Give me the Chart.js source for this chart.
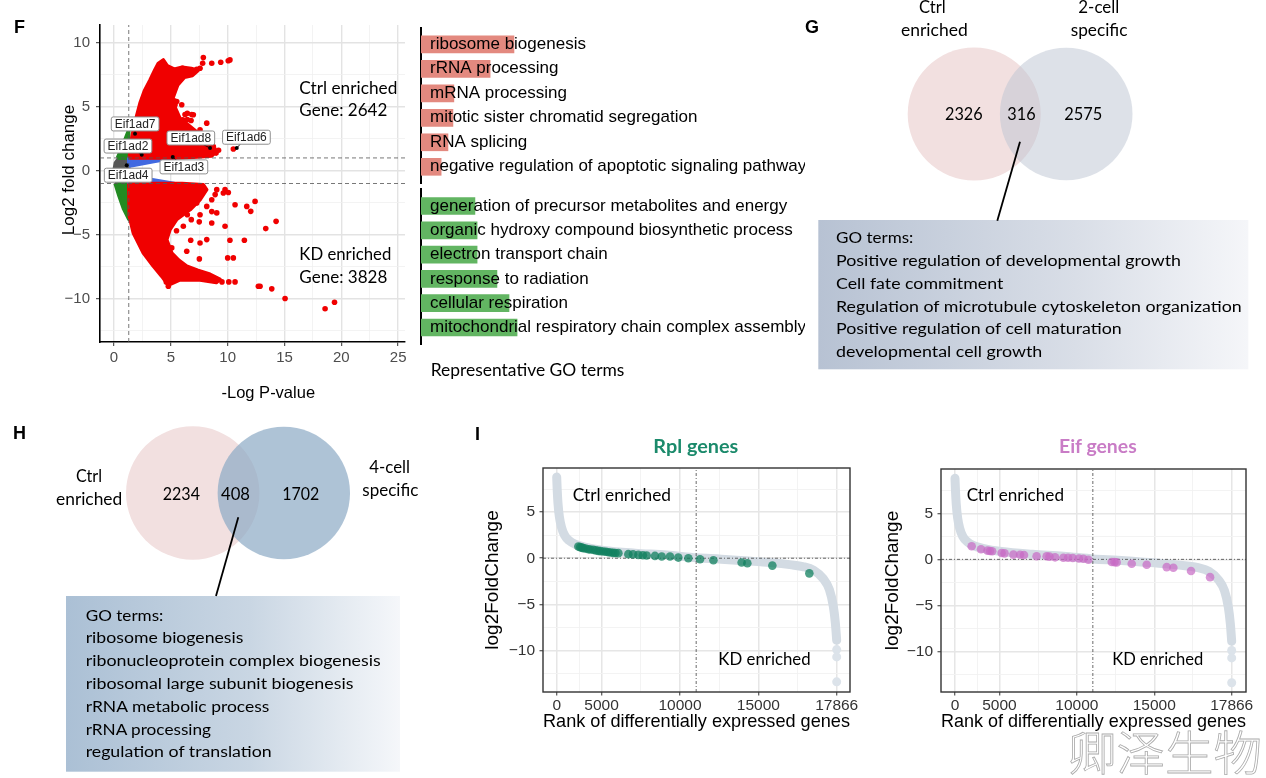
<!DOCTYPE html>
<html>
<head>
<meta charset="utf-8">
<script src="https://cdn.jsdelivr.net/npm/chart.js@4.4.1/dist/chart.umd.min.js"></script>
<style>
  html, body { margin: 0; padding: 0; background: #fff; }
  #page { position: relative; width: 1266px; height: 778px; overflow: hidden; background: #fff; }
  canvas { position: absolute; }
  #overlay { position: absolute; left: 0; top: 0; pointer-events: none; }
</style>
</head>
<body>
<div id="page">
  <canvas id="volcano" width="361" height="405" style="left:54px;top:0px"></canvas>
  <canvas id="goUp" width="387" height="157" style="left:418px;top:27px"></canvas>
  <canvas id="goDown" width="387" height="157" style="left:418px;top:188px"></canvas>
  <canvas id="vennG" width="240" height="148" style="left:900px;top:40.2px"></canvas>
  <canvas id="vennH" width="240" height="148" style="left:120px;top:419.3px"></canvas>
  <canvas id="rankRpl" width="398" height="277" style="left:477px;top:460px"></canvas>
  <canvas id="rankEif" width="389" height="276" style="left:877px;top:461px"></canvas>
  <svg id="overlay" width="1266" height="778" xmlns="http://www.w3.org/2000/svg">
    <defs>
      <linearGradient id="gradG" x1="0" y1="0" x2="1" y2="0">
        <stop offset="0" stop-color="#b7c2d3"/>
        <stop offset="0.6" stop-color="#d9dee7"/>
        <stop offset="1" stop-color="#f5f6f9"/>
      </linearGradient>
      <linearGradient id="gradH" x1="0" y1="0" x2="1" y2="0">
        <stop offset="0" stop-color="#abc0d5"/>
        <stop offset="0.55" stop-color="#c9d6e3"/>
        <stop offset="1" stop-color="#f5f7fa"/>
      </linearGradient>
    </defs>
    <rect x="818.3" y="220" width="430" height="149.3" fill="url(#gradG)"/>
    <rect x="66" y="596" width="334" height="175.7" fill="url(#gradH)"/>
    <line x1="1020" y1="141.7" x2="997.3" y2="220.7" stroke="#000" stroke-width="1.8"/>
    <line x1="238.3" y1="517.3" x2="216" y2="596" stroke="#000" stroke-width="1.8"/>
  </svg>
</div>
<script>
var ARIAL = '"Liberation Sans", Arial, sans-serif';
var CAL = 'Lato, "Open Sans", sans-serif';
Chart.defaults.font.family = ARIAL;

// ---------- F: volcano plot ----------
var volXTicks = [0, 2.5, 5, 7.5, 10, 12.5, 15, 17.5, 20, 22.5, 25];
var volYTicks = [-12.5, -10, -7.5, -5, -2.5, 0, 2.5, 5, 7.5, 10];
var pCut = 1.3;   // -log10(0.05)
var fcCut = 1;

// dense clouds, outlines
var nsGrey   = [[0, 0], [0.12, 0.6], [0.4, 0.95], [1.3, 1.0], [1.3, -1.0], [0.3, -0.95], [0.08, -0.6]];
var greenUp  = [[0.3, 1.0], [0.6, 1.6], [0.95, 2.4], [1.3, 3.2], [1.3, 1.0]];
var greenDn  = [[0.1, -1.0], [0.45, -2.0], [0.85, -3.0], [1.3, -3.8], [1.3, -1.0]];
var blueUp   = [[1.3, 0.35], [1.3, 1.0], [5.3, 1.0], [3.5, 0.72]];
var blueDn   = [[1.3, -0.4], [1.3, -1.0], [5.3, -1.0], [3.5, -0.72]];
var redUp    = [[1.35, 1.0], [1.45, 2.0], [1.7, 3.2], [2.0, 4.3], [2.29, 5.29], [2.7, 6.3], [3.17, 7.1],
                [3.6, 7.9], [3.9, 8.4], [4.34, 8.67], [4.7, 8.2], [5.3, 7.95], [6.0, 8.1], [6.8, 8.0],
                [7.4, 7.85], [6.9, 7.45], [6.2, 7.3], [5.6, 6.7], [5.15, 5.6], [5.4, 4.9], [5.8, 4.1],
                [6.5, 3.6], [7.2, 3.1], [7.9, 2.6], [8.7, 2.05], [9.0, 1.5], [8.6, 1.15], [7.0, 1.05], [5.5, 1.0]];
var redDn    = [[1.3, -1.0], [4.5, -1.0], [6.0, -1.0], [7.86, -1.1], [8.16, -1.48], [7.57, -2.27], [6.7, -3.05],
                [5.5, -3.83], [4.93, -4.6], [4.64, -5.4], [5.08, -6.43], [5.7, -7.0], [6.4, -7.47], [7.4, -7.8],
                [8.45, -8.1], [9.33, -8.5], [9.0, -8.75], [7.57, -8.55], [5.8, -8.55], [4.78, -8.95], [4.2, -8.26],
                [3.46, -7.47], [2.58, -6.43], [1.7, -4.87], [1.35, -3.57]];
// scattered significant genes outside the dense clouds
var redDots = [[7.8, 8.41], [8.6, 8.41], [9.39, 8.49], [10.2, 8.67], [10.05, 8.6], [7.86, 8.85], [7.28, 7.94],
  [7.57, 8.02], [6.04, 8.02], [5.52, 5.42], [5.3, 5.47], [5.37, 5.16], [5.96, 5.16], [6.45, 4.5], [6.98, 4.38],
  [6.84, 4.4], [6.25, 4.4], [5.46, 4.4], [6.45, 4.0], [6.78, 3.93], [5.96, 3.33], [5.52, 3.7], [8.16, 3.72],
  [7.57, 3.2], [7.28, 2.94], [6.04, 3.98], [5.22, 3.46], [8.74, 1.9], [8.98, 1.38], [9.2, 1.6], [10.5, 1.7],
  [9.04, -1.48], [9.62, -1.74], [10.06, -1.7], [10.65, -2.66], [11.68, -2.79], [12.03, -3.18], [12.41, -2.4],
  [14.26, -3.96], [13.35, -4.53], [11.47, -5.44], [10.2, -5.44], [9.77, -4.35], [8.6, -4.09], [9.04, -3.3],
  [7.57, -3.44], [8.16, -5.39], [7.57, -5.65], [6.75, -5.44], [6.4, -6.3], [7.51, -6.9], [10.0, -6.82],
  [10.5, -6.82], [12.7, -9.04], [12.85, -9.04], [13.88, -9.24], [15.05, -10.0], [18.57, -10.8], [19.4, -10.29],
  [10.1, -8.7], [10.65, -8.7], [9.5, -8.7], [8.9, -8.44], [5.66, -8.38], [4.78, -9.04], [4.6, -8.7],
  [7.28, -2.53], [6.7, -2.27], [7.28, -2.0], [8.16, -2.79], [8.6, -2.27], [8.9, -1.87], [9.77, -1.48],
  [6.1, -4.35], [5.5, -4.7], [5.08, -6.04], [5.52, -3.3], [6.45, -3.44], [6.8, -3.83], [7.5, -4.0], [8.6, -3.2]];
var eifNames   = ['Eif1ad7', 'Eif1ad2', 'Eif1ad8', 'Eif1ad6', 'Eif1ad3', 'Eif1ad4'];
var eifPoints  = [[1.85, 2.89], [2.44, 1.25], [8.45, 1.77], [10.8, 1.77], [5.17, 1.07], [1.12, 0.42]];
var eifLabelAt = [[1.86, 3.66], [1.23, 1.93], [6.76, 2.56], [11.65, 2.62], [6.15, 0.3], [1.25, -0.35]];
var ctrlGeneCount = 2642;
var kdGeneCount = 3828;

// ---------- F: representative GO terms ----------
var goCtrlTerms = ['ribosome biogenesis', 'rRNA processing', 'mRNA processing',
  'mitotic sister chromatid segregation', 'RNA splicing', 'negative regulation of apoptotic signaling pathway'];
var goCtrlScore = [30, 22.3, 10.6, 10.3, 8.7, 6.5];
var goKdTerms = ['generation of precursor metabolites and energy', 'organic hydroxy compound biosynthetic process',
  'electron transport chain', 'response to radiation', 'cellular respiration',
  'mitochondrial respiratory chain complex assembly'];
var goKdScore = [17.4, 18.1, 18.1, 24.5, 28.4, 31.0];

// ---------- G / H: Venn ----------
var vennGSets = [['Ctrl', 'enriched'], ['2-cell', 'specific']];
var vennGCounts = [2326, 316, 2575];
var vennGTerms = ['GO terms:', 'Positive regulation of developmental growth', 'Cell fate commitment',
  'Regulation of microtubule cytoskeleton organization', 'Positive regulation of cell maturation',
  'developmental cell growth'];
var vennHSets = [['Ctrl', 'enriched'], ['4-cell', 'specific']];
var vennHCounts = [2234, 408, 1702];
var vennHTerms = ['GO terms:', 'ribosome biogenesis', 'ribonucleoprotein complex biogenesis',
  'ribosomal large subunit biogenesis', 'rRNA metabolic process', 'rRNA processing', 'regulation of translation'];

// ---------- I: rank plots ----------
var rankTickVals   = [0, 2866, 7866, 12866, 17866];
var rankTickLabels = ['0', '5000', '10000', '15000', '17866'];
var rankMinorVals  = [1433, 5366, 10366, 15366];
var rankYTicks     = [-12.5, -10, -7.5, -5, -2.5, 0, 2.5, 5, 7.5];
var rankCross = 8900;
var curveRank = [0, 30, 80, 170, 300, 500, 800, 1200, 1800, 3000, 5000, 7000, 8930, 10500, 12000, 13600,
                 15000, 15700, 16400, 17000, 17400, 17650, 17780, 17866];
var curveLfc  = [8.8, 7.5, 6.0, 4.5, 3.4, 2.5, 1.9, 1.5, 1.2, 0.85, 0.55, 0.35, 0.05, -0.1, -0.28, -0.47,
                 -0.72, -0.9, -1.3, -2.2, -3.4, -5.2, -7.0, -8.9];
var tailRank = [17866, 17866, 17866];
var tailLfc  = [-9.9, -10.7, -13.4];
var rplRank = [1380, 1500, 1600, 1700, 1850, 2020, 2150, 2340, 2500, 2660, 2800, 2980, 3150, 3300, 3450,
               3615, 3750, 3935, 4570, 4870, 5210, 5500, 5740, 6270, 6700, 7230, 7760, 8400, 9145, 10000,
               11800, 12165, 13760, 16120];
var rplLfc  = [1.27, 1.2, 1.15, 1.09, 1.05, 0.98, 0.95, 0.91, 0.85, 0.8, 0.77, 0.73, 0.7, 0.65, 0.62,
               0.58, 0.56, 0.55, 0.44, 0.42, 0.36, 0.32, 0.29, 0.25, 0.18, 0.18, 0.07, 0.0, -0.11, -0.22,
               -0.47, -0.55, -0.8, -1.64];
var eifRank = [1076, 1680, 2100, 2260, 2400, 3010, 3200, 3770, 4200, 4455, 5270, 5920, 6100, 6460, 7000,
               7300, 7600, 8000, 8290, 8610, 10120, 10300, 10440, 11410, 12380, 13670, 14100, 15240, 16470];
var eifLfc  = [1.42, 1.09, 0.95, 0.91, 0.88, 0.69, 0.65, 0.51, 0.5, 0.47, 0.33, 0.33, 0.3, 0.22, 0.18,
               0.17, 0.15, 0.1, 0.07, -0.04, -0.29, -0.3, -0.33, -0.47, -0.58, -0.84, -0.91, -1.27, -1.93];

function xy(pairs) { return pairs.map(function (p) { return { x: p[0], y: p[1] }; }); }
function zipXY(xs, ys) { return xs.map(function (v, i) { return { x: v, y: ys[i] }; }); }

function polygon(pts, color) {
  var d = xy(pts); d.push(d[0]);
  return { data: d, fill: 'shape', backgroundColor: color, borderColor: color, borderWidth: 3.5,
           borderJoinStyle: 'round', pointRadius: 0, tension: 0 };
}
function seg(a, b, dash, color) {
  return { data: xy([a, b]), borderColor: color || '#555', borderWidth: 0.8, borderDash: dash,
           pointRadius: 0, fill: false, tension: 0 };
}
function isMajor(v, step) { return Math.abs(v / step - Math.round(v / step)) < 1e-6; }

// ---- volcano ----
var VX = [-1.23, 25.6], VY = [-13.4, 11.4];
var eifLabelPlugin = {
  id: 'eifLabels',
  afterDatasetsDraw: function (chart) {
    var ctx = chart.ctx, sx = chart.scales.x, sy = chart.scales.y;
    ctx.save();
    ctx.strokeStyle = '#000'; ctx.lineWidth = 0.8;
    eifNames.forEach(function (n, i) {
      ctx.beginPath();
      ctx.moveTo(sx.getPixelForValue(eifLabelAt[i][0]), sy.getPixelForValue(eifLabelAt[i][1]));
      ctx.lineTo(sx.getPixelForValue(eifPoints[i][0]), sy.getPixelForValue(eifPoints[i][1]));
      ctx.stroke();
    });
    ctx.font = '12px ' + ARIAL; ctx.textAlign = 'center'; ctx.textBaseline = 'middle';
    eifNames.forEach(function (n, i) {
      var cx = sx.getPixelForValue(eifLabelAt[i][0]), cy = sy.getPixelForValue(eifLabelAt[i][1]);
      var w = ctx.measureText(n).width + 7, h = 14;
      ctx.beginPath();
      if (ctx.roundRect) ctx.roundRect(cx - w / 2, cy - h / 2, w, h, 2); else ctx.rect(cx - w / 2, cy - h / 2, w, h);
      ctx.fillStyle = '#fff'; ctx.fill();
      ctx.strokeStyle = '#8f8f8f'; ctx.lineWidth = 1; ctx.stroke();
      ctx.fillStyle = '#222'; ctx.fillText(n, cx, cy + 0.5);
    });
    ctx.restore();
  }
};

new Chart(document.getElementById('volcano'), {
  type: 'line',
  data: { datasets: [
    { data: xy(eifPoints), showLine: false, pointRadius: 2, pointBackgroundColor: '#000', pointBorderWidth: 0 },
    seg([pCut, VY[0]], [pCut, VY[1]], [4, 3]),
    seg([VX[0], fcCut], [VX[1], fcCut], [4, 3]),
    seg([VX[0], -fcCut], [VX[1], -fcCut], [4, 3]),
    { data: xy(redDots), showLine: false, pointRadius: 2.8, pointBackgroundColor: '#f00000', pointBorderWidth: 0 },
    polygon(redUp, '#f00000'),
    polygon(redDn, '#f00000'),
    polygon(blueUp, '#4169e1'),
    polygon(blueDn, '#4169e1'),
    polygon(greenUp, '#228b22'),
    polygon(greenDn, '#228b22'),
    polygon(nsGrey, '#575757')
  ] },
  options: {
    responsive: false, animation: false,
    layout: { autoPadding: false, padding: { left: 0, right: 10, top: 25, bottom: 0 } },
    plugins: { legend: { display: false }, tooltip: { enabled: false } },
    scales: {
      x: {
        type: 'linear', min: VX[0], max: VX[1],
        afterBuildTicks: function (s) { s.ticks = volXTicks.map(function (v) { return { value: v }; }); },
        afterFit: function (s) { s.height = 63; },
        ticks: { autoSkip: false, maxRotation: 0, padding: 3, color: '#4d4d4d', font: { size: 15 },
                 callback: function (v) { return isMajor(v, 5) ? String(v) : ''; } },
        grid: { color: function (c) { return isMajor(c.tick.value, 5) ? '#e3e3e3' : '#f0f0f0'; },
                lineWidth: function (c) { return isMajor(c.tick.value, 5) ? 1.4 : 0.8; },
                tickLength: 4, tickWidth: 1,
                tickColor: function (c) { return isMajor(c.tick.value, 5) ? '#333' : 'rgba(0,0,0,0)'; } },
        border: { display: true, color: '#000', width: 1.6 }
      },
      y: {
        type: 'linear', min: VY[0], max: VY[1],
        afterBuildTicks: function (s) { s.ticks = volYTicks.map(function (v) { return { value: v }; }); },
        afterFit: function (s) { s.width = 46; s.paddingTop = 0; s.paddingBottom = 0; },
        ticks: { autoSkip: false, padding: 6, color: '#4d4d4d', font: { size: 15 },
                 callback: function (v) { return isMajor(v, 5) ? String(v).replace('-', '\u2212') : ''; } },
        grid: { color: function (c) { return isMajor(c.tick.value, 5) ? '#e3e3e3' : '#f0f0f0'; },
                lineWidth: function (c) { return isMajor(c.tick.value, 5) ? 1.4 : 0.8; },
                tickLength: 4, tickWidth: 1,
                tickColor: function (c) { return isMajor(c.tick.value, 5) ? '#333' : 'rgba(0,0,0,0)'; } },
        border: { display: true, color: '#000', width: 1.6 }
      }
    }
  },
  plugins: [eifLabelPlugin]
});

// ---- GO term bars ----
function goChart(id, terms, scores, color, yMin, yMax) {
  var termPlugin = {
    id: 'terms',
    afterDatasetsDraw: function (chart) {
      var ctx = chart.ctx, sy = chart.scales.y;
      ctx.save();
      ctx.font = '17px ' + ARIAL; ctx.fillStyle = '#000'; ctx.textBaseline = 'middle'; ctx.textAlign = 'left';
      terms.forEach(function (t, i) { ctx.fillText(t, chart.chartArea.left + 9, sy.getPixelForValue(i)); });
      ctx.restore();
    }
  };
  new Chart(document.getElementById(id), {
    type: 'bar',
    data: { datasets: [{ data: scores.map(function (v, i) { return { x: v, y: i }; }),
                         backgroundColor: color, borderWidth: 0, barThickness: 17 }] },
    options: {
      indexAxis: 'y', responsive: false, animation: false,
      layout: { autoPadding: false, padding: 0 },
      plugins: { legend: { display: false }, tooltip: { enabled: false } },
      scales: {
        x: { type: 'linear', min: 0, max: 123.9, display: false, offset: false },
        y: { type: 'linear', reverse: true, min: yMin, max: yMax, offset: false,
             ticks: { display: false }, grid: { display: false, drawTicks: false, offset: false },
             border: { display: true, color: '#000', width: 2 },
             afterFit: function (s) { s.width = 3; } }
      }
    },
    plugins: [termPlugin]
  });
}
goChart('goUp', goCtrlTerms, goCtrlScore, '#e3897f', -0.706, 5.702);
goChart('goDown', goKdTerms, goKdScore, '#62b562', -0.741, 5.72);

// ---- Venn diagrams ----
function vennChart(id, rLeft, rRight, rightColor, xMin, xMax) {
  new Chart(document.getElementById(id), {
    type: 'bubble',
    data: { datasets: [
      { data: [{ x: 1, y: 0 }], radius: rRight, backgroundColor: rightColor, borderWidth: 0, clip: false },
      { data: [{ x: 0, y: 0 }], radius: rLeft, backgroundColor: '#f2e0e0', borderWidth: 0, clip: false }
    ] },
    options: {
      responsive: false, animation: false, layout: { autoPadding: false, padding: 0 },
      plugins: { legend: { display: false }, tooltip: { enabled: false } },
      scales: { x: { display: false, min: xMin, max: xMax }, y: { display: false, min: -1, max: 1 } }
    }
  });
}
vennChart('vennG', 66.5, 66.3, 'rgba(187,195,209,0.5)', -0.8065, 1.8022);
vennChart('vennH', 66.7, 66.2, 'rgba(139,169,196,0.7)', -0.798, 1.836);

// ---- rank plots ----
var framePlugin = {
  id: 'frame',
  afterDatasetsDraw: function (c) {
    var a = c.chartArea, ctx = c.ctx;
    ctx.save(); ctx.strokeStyle = '#333'; ctx.lineWidth = 1.4;
    ctx.strokeRect(a.left, a.top, a.right - a.left, a.bottom - a.top);
    ctx.restore();
  }
};
function rankChart(id, xs, ys, color, xr, yr, yWidth, padRight) {
  var xGrid = rankTickVals.concat(rankMinorVals).sort(function (a, b) { return a - b; });
  new Chart(document.getElementById(id), {
    type: 'line',
    data: { datasets: [
      { data: zipXY(xs, ys), showLine: false, pointRadius: 4.3, pointBackgroundColor: color, pointBorderWidth: 0 },
      seg([rankCross, yr[0]], [rankCross, yr[1]], [3, 2, 1, 2], '#444'),
      seg([xr[0], 0], [xr[1], 0], [3, 2, 1, 2], '#444'),
      { data: zipXY(tailRank, tailLfc), showLine: false, pointRadius: 4.5, pointBackgroundColor: '#dce3ea', pointBorderWidth: 0 },
      { data: zipXY(curveRank, curveLfc), borderColor: '#d3dbe3', borderWidth: 9, borderCapStyle: 'round',
        borderJoinStyle: 'round', cubicInterpolationMode: 'monotone', pointRadius: 0, fill: false }
    ] },
    options: {
      responsive: false, animation: false,
      layout: { autoPadding: false, padding: { left: 0, right: padRight, top: 8, bottom: 0 } },
      plugins: { legend: { display: false }, tooltip: { enabled: false } },
      scales: {
        x: {
          type: 'linear', min: xr[0], max: xr[1],
          afterBuildTicks: function (s) { s.ticks = xGrid.map(function (v) { return { value: v }; }); },
          afterFit: function (s) { s.height = 45; },
          ticks: { autoSkip: false, maxRotation: 0, padding: 1, color: '#333', font: { size: 15.5 },
                   callback: function (v) { var i = rankTickVals.indexOf(v); return i >= 0 ? rankTickLabels[i] : ''; } },
          grid: { color: function (c) { return rankTickVals.indexOf(c.tick.value) >= 0 ? '#e6e6e6' : '#f2f2f2'; },
                  lineWidth: function (c) { return rankTickVals.indexOf(c.tick.value) >= 0 ? 1.5 : 0.9; },
                  tickLength: 3.5, tickWidth: 1,
                  tickColor: function (c) { return rankTickVals.indexOf(c.tick.value) >= 0 ? '#333' : 'rgba(0,0,0,0)'; } },
          border: { display: false },
          title: { display: true, text: 'Rank of differentially expressed genes', color: '#000', font: { size: 19 },
                   padding: { top: 0, bottom: 4 } }
        },
        y: {
          type: 'linear', min: yr[0], max: yr[1],
          afterBuildTicks: function (s) { s.ticks = rankYTicks.map(function (v) { return { value: v }; }); },
          afterFit: function (s) { s.width = yWidth; s.paddingTop = 0; s.paddingBottom = 0; },
          ticks: { autoSkip: false, padding: 4.5, color: '#333', font: { size: 15.5 },
                   callback: function (v) { return isMajor(v, 5) ? String(v).replace('-', '\u2212') : ''; } },
          grid: { color: function (c) { return isMajor(c.tick.value, 5) ? '#e6e6e6' : '#f2f2f2'; },
                  lineWidth: function (c) { return isMajor(c.tick.value, 5) ? 1.5 : 0.9; },
                  tickLength: 3.5, tickWidth: 1,
                  tickColor: function (c) { return isMajor(c.tick.value, 5) ? '#333' : 'rgba(0,0,0,0)'; } },
          border: { display: false },
          title: { display: true, text: 'log2FoldChange', color: '#000', font: { size: 19 },
                   padding: { top: 4, bottom: 0 } }
        }
      }
    },
    plugins: [framePlugin]
  });
}
rankChart('rankRpl', rplRank, rplLfc, 'rgba(17,128,95,0.75)', [-874, 18715], [-14.5, 9.78], 66, 25);
rankChart('rankEif', eifRank, eifLfc, 'rgba(200,105,196,0.7)', [-904, 18790], [-14.4, 9.81], 64, 20);

// ---------- overlay text ----------
var svg = document.getElementById('overlay');
var NS = 'http://www.w3.org/2000/svg';
function add(tag, attrs, text) {
  var e = document.createElementNS(NS, tag);
  for (var k in attrs) e.setAttribute(k, attrs[k]);
  if (text != null) e.textContent = text;
  svg.appendChild(e); return e;
}
function cal(x, y, s, w, size, extra) {
  var a = { x: x, y: y, 'font-family': CAL, 'font-size': size, fill: '#000' };
  if (w) { a.textLength = w; a.lengthAdjust = 'spacingAndGlyphs'; }
  for (var k in (extra || {})) a[k] = extra[k];
  return add('text', a, s);
}
function letter(x, y, s) { add('text', { x: x, y: y, 'font-family': ARIAL, 'font-size': 18, 'font-weight': 'bold', fill: '#000' }, s); }

letter(14, 33, 'F'); letter(805, 33, 'G'); letter(13, 439, 'H'); letter(475, 440, 'I');

// volcano titles and annotations
add('text', { x: 268.3, y: 398, 'font-family': ARIAL, 'font-size': 16.5, fill: '#000', 'text-anchor': 'middle' }, '-Log P-value');
add('text', { x: 68, y: 170, 'font-family': ARIAL, 'font-size': 17, fill: '#000', 'text-anchor': 'middle',
              'dominant-baseline': 'central', transform: 'rotate(-90 68 170)' }, 'Log2 fold change');
cal(299.3, 94, 'Ctrl enriched', 98, 17.5);
cal(299.3, 116, 'Gene: ' + ctrlGeneCount, 88, 17.5);
cal(299.3, 260, 'KD enriched', 92, 17.5);
cal(299.3, 283, 'Gene: ' + kdGeneCount, 88, 17.5);
cal(430.7, 376, 'Representative GO terms', 193.7, 16.5);

// G
cal(919, 13.3, vennGSets[0][0], 26.7, 16.5); cal(901, 36, vennGSets[0][1], 66.7, 16.5);
cal(1078.3, 13.3, vennGSets[1][0], 41, 16.5); cal(1070.7, 36, vennGSets[1][1], 56.7, 16.5);
var gCountX = [945, 1007.3, 1064.3], gCountW = [37.7, 28.3, 38];
vennGCounts.forEach(function (n, i) { cal(gCountX[i], 120, String(n), gCountW[i], 16.5); });
var gTermY = [243, 265.8, 288.7, 311.6, 334.4, 357.2];
var gTermW = [77.3, 345, 167.3, 405.7, 285.7, 206.3];
vennGTerms.forEach(function (t, i) { cal(836, gTermY[i], t, gTermW[i], 15.5); });

// H
cal(76, 481.7, vennHSets[0][0], 26, 16.5); cal(56, 505, vennHSets[0][1], 66.3, 16.5);
cal(369.3, 473.3, vennHSets[1][0], 40.7, 16.5); cal(362.3, 496, vennHSets[1][1], 56, 16.5);
var hCountX = [162.7, 221, 282.3], hCountW = [37.3, 29, 37];
vennHCounts.forEach(function (n, i) { cal(hCountX[i], 500, String(n), hCountW[i], 16.5); });
var hTermW = [77.7, 157.7, 295, 267.7, 183.7, 125.3, 186];
vennHTerms.forEach(function (t, i) { cal(85.7, 620.7 + i * 22.77, t, hTermW[i], 15.5); });

// I
cal(653.3, 453.3, 'Rpl genes', 85, 18.5, { 'font-weight': 'bold', fill: '#1b8a6b' });
cal(1059, 453.3, 'Eif genes', 77.7, 18.5, { 'font-weight': 'bold', fill: '#c97cc6' });
cal(572.7, 501, 'Ctrl enriched', 98.3, 17.5); cal(718.3, 665, 'KD enriched', 92.3, 17.5);
cal(966.7, 501, 'Ctrl enriched', 97.3, 17.5); cal(1112.3, 665, 'KD enriched', 91, 17.5);

// watermark
add('text', { x: 1068, y: 770, 'font-family': '"Noto Sans CJK SC", sans-serif', 'font-size': 47, 'font-weight': 300,
              fill: 'none', stroke: '#ababab', 'stroke-width': 0.8, textLength: 194, lengthAdjust: 'spacingAndGlyphs' }, '卿泽生物');
</script>
</body>
</html>
